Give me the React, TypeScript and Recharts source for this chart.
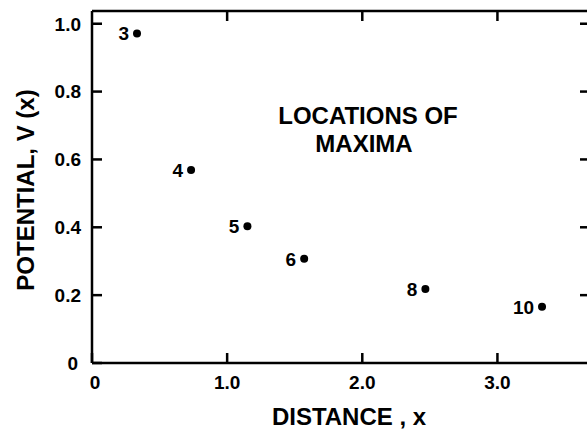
import React from "react";
import { ScatterChart, Scatter, XAxis, YAxis, Customized } from "recharts";

const pointLabels = ["3", "4", "5", "6", "8", "10"];
const distances = [0.333, 0.733, 1.15, 1.57, 2.467, 3.33];
const potentials = [0.971, 0.569, 0.403, 0.307, 0.218, 0.166];

const xTicks = [0, 1, 2, 3];
const yTicks = [0, 0.2, 0.4, 0.6, 0.8, 1.0];
const annotation = ["LOCATIONS OF", "MAXIMA"];
const xTitle = "DISTANCE , x";
const yTitle = "POTENTIAL, V (x)";

const FONT = "'Liberation Sans', Arial, sans-serif";
const INK = "#000";

const data = distances.map((x, i) => ({
  x,
  y: potentials[i],
  n: pointLabels[i],
}));

const fmt = (v: number) => (v === 0 ? "0" : v.toFixed(1));

const textStyle = {
  fontFamily: FONT,
  fontWeight: 600,
  fill: INK,
};

const BottomTick = (props: any) => {
  const { x, y, payload } = props;
  return (
    <text
      x={x + (payload.value === 0 ? 3 : 0)}
      y={y}
      dy="0.75em"
      textAnchor="middle"
      fontSize={19}
      {...textStyle}
    >
      {fmt(payload.value)}
    </text>
  );
};

const LeftTick = (props: any) => {
  const { x, y, payload } = props;
  return (
    <text
      x={payload.value === 0 ? x - 3 : x}
      y={y}
      dy="0.36em"
      textAnchor="end"
      fontSize={19}
      {...textStyle}
    >
      {fmt(payload.value)}
    </text>
  );
};

const Dot = (props: any) => {
  const { cx, cy, payload } = props;
  return (
    <g>
      <circle cx={cx} cy={cy} r={4} fill={INK} />
      <text
        x={cx - 8}
        y={cy}
        dy="0.36em"
        textAnchor="end"
        fontSize={19}
        {...textStyle}
      >
        {payload.n}
      </text>
    </g>
  );
};

// empty marks / ticks for the mirror axes (top and right), which only show tick lines
const NoMark = () => <g />;
const NoTick = () => <g />;

const Texts = () => (
  <g>
    <text fontSize={24} textAnchor="middle" {...textStyle}>
      <tspan x={368} y={124}>
        {annotation[0]}
      </tspan>
      <tspan x={364} y={152}>
        {annotation[1]}
      </tspan>
    </text>
    <text x={349} y={425} fontSize={24} textAnchor="middle" {...textStyle}>
      {xTitle}
    </text>
    <text
      x={25}
      y={190}
      dy="0.36em"
      fontSize={24}
      textAnchor="middle"
      transform="rotate(-90, 25, 190)"
      {...textStyle}
    >
      {yTitle}
    </text>
  </g>
);

export default function App() {
  return (
    <div
      style={{
        position: "fixed",
        left: 0,
        top: 0,
        width: 587,
        height: 429,
        overflow: "hidden",
        background: "#fff",
      }}
    >
      <ScatterChart
        width={600}
        height={429}
        margin={{ top: 0, right: 0, bottom: 0, left: 0 }}
      >
        <XAxis
          dataKey="x"
          type="number"
          domain={[0, 3.685]}
          ticks={xTicks}
          interval={0}
          height={66}
          tickSize={-10}
          tickMargin={22}
          stroke={INK}
          strokeWidth={2.5}
          tick={<BottomTick />}
        />
        <XAxis
          xAxisId="top"
          dataKey="x"
          orientation="top"
          type="number"
          domain={[0, 3.685]}
          ticks={[1, 2, 3]}
          interval={0}
          height={11}
          tickSize={-10}
          stroke={INK}
          strokeWidth={2.5}
          tick={<NoTick />}
        />
        <YAxis
          dataKey="y"
          type="number"
          domain={[0, 1.0375]}
          ticks={yTicks}
          interval={0}
          width={92}
          tickSize={-10}
          tickMargin={21}
          stroke={INK}
          strokeWidth={2.5}
          tick={<LeftTick />}
        />
        <YAxis
          yAxisId="right"
          dataKey="y"
          orientation="right"
          type="number"
          domain={[0, 1.0375]}
          ticks={[0.2, 0.4, 0.6, 0.8, 1.0]}
          interval={0}
          width={10}
          tickSize={-10}
          stroke={INK}
          strokeWidth={2.5}
          tick={<NoTick />}
        />
        <Scatter
          data={data}
          xAxisId="top"
          yAxisId="right"
          shape={<NoMark />}
          isAnimationActive={false}
        />
        <Scatter data={data} shape={<Dot />} isAnimationActive={false} />
        <Customized component={Texts} />
      </ScatterChart>
    </div>
  );
}
